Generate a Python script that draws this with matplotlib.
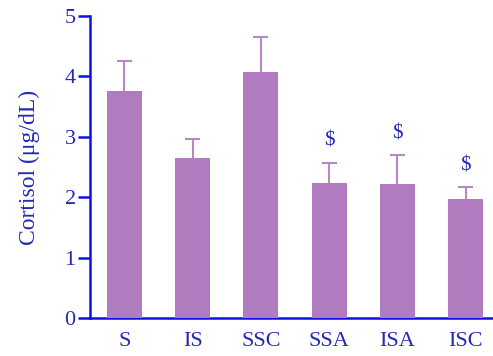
import matplotlib
matplotlib.use("Agg")
import matplotlib.pyplot as plt
import numpy as np

# Cortisol by group (mean and upper SEM)
groups = ["S", "IS", "SSC", "SSA", "ISA", "ISC"]
cortisol = [3.75, 2.65, 4.07, 2.23, 2.21, 1.97]
sem = [0.50, 0.32, 0.58, 0.34, 0.48, 0.19]
marks = ["", "", "", "$", "$", "$"]

BAR = "#b07cbf"
ERR = "#b58ac4"
AXIS = "#1010e8"
TEXT = "#2828b8"

plt.rcParams["font.family"] = "serif"
plt.rcParams["font.serif"] = ["Liberation Serif", "DejaVu Serif"]

fig = plt.figure(figsize=(4.93, 3.56), dpi=100)
ax = fig.add_axes([0.183, 0.107, 0.817, 0.848])

x = np.arange(len(groups))
top = np.array(cortisol) + np.array(sem)
ax.bar(x, cortisol, width=0.51, color=BAR, zorder=3)
# upper error bars only
ax.vlines(x, cortisol, top, color=ERR, linewidth=1.5, zorder=1)
ax.hlines(top, x - 0.11, x + 0.11, color=ERR, linewidth=1.5, zorder=1)

for xi, m, t in zip(x, marks, top):
    if m:
        ax.text(xi, t + 0.36, m, ha="center", va="center",
                color=TEXT, fontsize=15)

ax.set_xlim(-0.5, 5.4)
ax.set_ylim(0, 5)
ax.set_yticks(range(6))
ax.set_xticks(x)
ax.set_xticklabels(groups)

for s in ("top", "right"):
    ax.spines[s].set_visible(False)
for s in ("left", "bottom"):
    ax.spines[s].set_color(AXIS)
    ax.spines[s].set_linewidth(1.8)

ax.tick_params(axis="y", colors=AXIS, labelcolor=TEXT, length=8.5, width=1.8,
               labelsize=16, pad=2)
ax.tick_params(axis="x", length=0, labelcolor=TEXT, labelsize=16, pad=10)
ax.set_ylabel("Cortisol (μg/dL)", color=TEXT, fontsize=17, labelpad=18)

fig.savefig("out.png", dpi=100)
